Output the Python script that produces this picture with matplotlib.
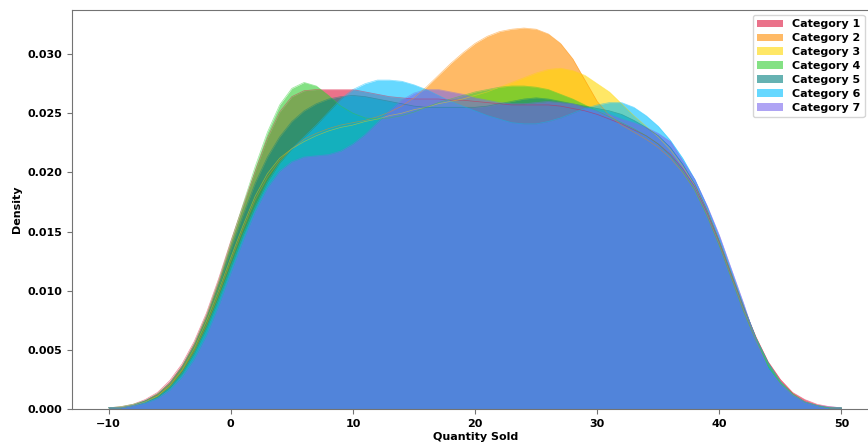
import numpy as np
import matplotlib
matplotlib.use("Agg")
import matplotlib.pyplot as plt

# -- Data (density at each whole unit of quantity) -----------------------------
QTY = list(range(-10, 51))   # -10 .. 50

CAT1 = [0.0001, 0.0002, 0.0004, 0.0008, 0.0014, 0.0024, 0.0038, 0.0057, 0.0081, 0.0110,
        0.0142, 0.0172, 0.0201, 0.0229, 0.0251, 0.0264, 0.0269, 0.0270, 0.0270, 0.0270,
        0.0270, 0.0268, 0.0266, 0.0264, 0.0263, 0.0262, 0.0262, 0.0262, 0.0261, 0.0261,
        0.0260, 0.0259, 0.0258, 0.0257, 0.0257, 0.0257, 0.0257, 0.0256, 0.0254, 0.0252,
        0.0249, 0.0245, 0.0241, 0.0236, 0.0231, 0.0224, 0.0215, 0.0203, 0.0188, 0.0166,
        0.0141, 0.0113, 0.0086, 0.0061, 0.0040, 0.0025, 0.0014, 0.0008, 0.0004, 0.0002,
        0.0001]
CAT2 = [0.0001, 0.0001, 0.0003, 0.0006, 0.0011, 0.0019, 0.0032, 0.0049, 0.0071, 0.0097,
        0.0125, 0.0152, 0.0177, 0.0196, 0.0210, 0.0220, 0.0228, 0.0233, 0.0237, 0.0240,
        0.0242, 0.0244, 0.0247, 0.0251, 0.0256, 0.0263, 0.0272, 0.0282, 0.0292, 0.0301,
        0.0309, 0.0315, 0.0319, 0.0321, 0.0322, 0.0321, 0.0317, 0.0309, 0.0296, 0.0278,
        0.0260, 0.0248, 0.0240, 0.0234, 0.0228, 0.0221, 0.0212, 0.0200, 0.0185, 0.0164,
        0.0139, 0.0111, 0.0083, 0.0058, 0.0037, 0.0022, 0.0012, 0.0006, 0.0003, 0.0001,
        0.0001]
CAT3 = [0.0001, 0.0001, 0.0003, 0.0006, 0.0011, 0.0020, 0.0033, 0.0051, 0.0074, 0.0100,
        0.0128, 0.0155, 0.0180, 0.0199, 0.0212, 0.0220, 0.0226, 0.0231, 0.0235, 0.0238,
        0.0240, 0.0243, 0.0245, 0.0248, 0.0250, 0.0253, 0.0255, 0.0258, 0.0260, 0.0262,
        0.0265, 0.0268, 0.0272, 0.0276, 0.0280, 0.0284, 0.0287, 0.0288, 0.0286, 0.0282,
        0.0275, 0.0268, 0.0258, 0.0248, 0.0239, 0.0230, 0.0219, 0.0205, 0.0189, 0.0168,
        0.0142, 0.0114, 0.0086, 0.0060, 0.0039, 0.0023, 0.0013, 0.0006, 0.0003, 0.0001,
        0.0001]
CAT4 = [0.0001, 0.0002, 0.0004, 0.0007, 0.0013, 0.0022, 0.0036, 0.0055, 0.0079, 0.0108,
        0.0141, 0.0173, 0.0205, 0.0234, 0.0257, 0.0271, 0.0276, 0.0273, 0.0265, 0.0256,
        0.0250, 0.0246, 0.0245, 0.0246, 0.0248, 0.0251, 0.0255, 0.0259, 0.0262, 0.0265,
        0.0268, 0.0270, 0.0272, 0.0273, 0.0273, 0.0272, 0.0270, 0.0266, 0.0262, 0.0257,
        0.0252, 0.0247, 0.0242, 0.0237, 0.0231, 0.0224, 0.0214, 0.0201, 0.0185, 0.0163,
        0.0138, 0.0110, 0.0082, 0.0058, 0.0037, 0.0022, 0.0012, 0.0006, 0.0003, 0.0001,
        0.0001]
CAT5 = [0.0001, 0.0001, 0.0003, 0.0007, 0.0012, 0.0021, 0.0035, 0.0053, 0.0076, 0.0104,
        0.0135, 0.0164, 0.0191, 0.0213, 0.0230, 0.0243, 0.0252, 0.0258, 0.0262, 0.0264,
        0.0265, 0.0264, 0.0262, 0.0260, 0.0258, 0.0256, 0.0255, 0.0255, 0.0255, 0.0255,
        0.0255, 0.0256, 0.0258, 0.0260, 0.0262, 0.0263, 0.0262, 0.0260, 0.0258, 0.0256,
        0.0254, 0.0252, 0.0249, 0.0244, 0.0238, 0.0231, 0.0221, 0.0207, 0.0190, 0.0168,
        0.0142, 0.0114, 0.0086, 0.0060, 0.0039, 0.0023, 0.0013, 0.0006, 0.0003, 0.0001,
        0.0001]
CAT6 = [0.0001, 0.0001, 0.0003, 0.0006, 0.0010, 0.0018, 0.0030, 0.0047, 0.0068, 0.0093,
        0.0120, 0.0147, 0.0171, 0.0192, 0.0208, 0.0220, 0.0230, 0.0240, 0.0251, 0.0262,
        0.0270, 0.0275, 0.0278, 0.0278, 0.0277, 0.0274, 0.0270, 0.0265, 0.0260, 0.0256,
        0.0252, 0.0248, 0.0245, 0.0242, 0.0241, 0.0241, 0.0243, 0.0246, 0.0250, 0.0254,
        0.0257, 0.0259, 0.0259, 0.0255, 0.0248, 0.0239, 0.0227, 0.0212, 0.0194, 0.0171,
        0.0145, 0.0116, 0.0087, 0.0060, 0.0039, 0.0023, 0.0012, 0.0006, 0.0003, 0.0001,
        0.0001]
CAT7 = [0.0001, 0.0001, 0.0003, 0.0005, 0.0009, 0.0016, 0.0027, 0.0042, 0.0062, 0.0087,
        0.0115, 0.0142, 0.0167, 0.0187, 0.0201, 0.0209, 0.0213, 0.0214, 0.0215, 0.0218,
        0.0224, 0.0232, 0.0242, 0.0252, 0.0261, 0.0267, 0.0270, 0.0270, 0.0268, 0.0266,
        0.0263, 0.0261, 0.0259, 0.0258, 0.0258, 0.0259, 0.0260, 0.0259, 0.0258, 0.0255,
        0.0252, 0.0249, 0.0245, 0.0242, 0.0238, 0.0233, 0.0226, 0.0210, 0.0194, 0.0172,
        0.0147, 0.0118, 0.0089, 0.0058, 0.0034, 0.0021, 0.0012, 0.0006, 0.0003, 0.0002,
        0.0001]

SERIES = [CAT1, CAT2, CAT3, CAT4, CAT5, CAT6, CAT7]
LABELS = [f"Category {i}" for i in range(1, 8)]
COLORS = ["crimson", "darkorange", "gold", "limegreen", "teal",
          "deepskyblue", "mediumslateblue"]

# -- Plot ----------------------------------------------------------------------
fig = plt.figure(figsize=(8.68, 4.47), dpi=100)
ax = fig.add_axes([0.083, 0.085, 0.93, 0.892])

for dens, lab, col in zip(SERIES, LABELS, COLORS):
    ax.fill_between(QTY, dens, color=col, alpha=0.6, lw=0, label=lab)
    ax.plot(QTY, dens, color=col, alpha=0.5, lw=0.5)

ax.set_xlim(-13.0, 53.1)
ax.set_ylim(0, 0.0337)
ax.set_xticks([-10, 0, 10, 20, 30, 40, 50])
yt = np.arange(0, 0.031, 0.005)
ax.set_yticks(yt)
ax.set_yticklabels([f"{v:.3f}" for v in yt])
for lbl in ax.get_xticklabels() + ax.get_yticklabels():
    lbl.set_fontweight("bold")
    lbl.set_fontsize(8)
ax.set_xlabel("Quantity Sold", fontsize=8, fontweight="bold", labelpad=2)
ax.set_ylabel("Density", fontsize=8, fontweight="bold")
for s in ax.spines.values():
    s.set_color("0.45")
ax.tick_params(color="0.45")

ax.legend(loc="upper left", bbox_to_anchor=(753 / 868, 1 - 15 / 447),
          bbox_transform=fig.transFigure, borderaxespad=0,
          prop={"weight": "bold", "size": 8},
          labelspacing=0.35, handlelength=2.3)

plt.savefig("out.png", dpi=100)
